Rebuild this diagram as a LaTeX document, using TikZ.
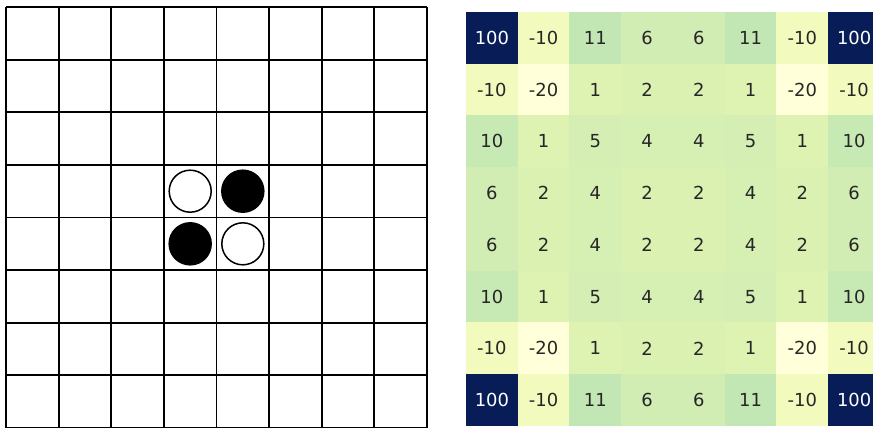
\documentclass[tikz,border=0pt]{standalone}
\usepackage{fontspec}
\newfontfamily\dv{DejaVu Sans}
\definecolor{hmA}{RGB}{8,29,88}      % 100
\definecolor{hmB}{RGB}{243,250,190}  % -10
\definecolor{hmC}{RGB}{255,255,217}  % -20
\definecolor{hmD}{RGB}{222,242,178}  % 1
\definecolor{hmE}{RGB}{219,241,178}  % 2
\definecolor{hmF}{RGB}{214,239,179}  % 4
\definecolor{hmG}{RGB}{212,238,179}  % 5
\definecolor{hmH}{RGB}{209,237,179}  % 6
\definecolor{hmI}{RGB}{199,233,180}  % 10
\definecolor{hmJ}{RGB}{194,231,180}  % 11
\definecolor{txt}{RGB}{38,38,38}
\tikzset{
  gridline/.style={line width=1.9bp, black},
  stone/.style={circle, draw=black, line width=1.5bp, minimum size=42bp, inner sep=0pt},
  whitestone/.style={stone, fill=white},
  blackstone/.style={stone, fill=black},
  cell/.style={minimum width=51.8bp, minimum height=51.8bp, inner sep=0pt, draw=none,
    font=\dv\fontsize{18}{20}\selectfont, text=txt},
}
\begin{document}
\begin{tikzpicture}[x=1bp,y=-1bp]
\useasboundingbox (0,0) rectangle (873,427);
\clip (0,0) rectangle (873,427);
\fill[white] (0,0) rectangle (873,427);
% board
\def\bs{52.625}
\foreach \i in {0,...,8} {
  \draw[gridline] ({6+\i*\bs},7) -- ({6+\i*\bs},430);
  \draw[gridline] (6,{7+\i*\bs}) -- (427,{7+\i*\bs});
}
\node[whitestone] (w1) at ({6+3.5*\bs},{7+3.5*\bs}) {};
\node[blackstone] (b1) at ({6+4.5*\bs},{7+3.5*\bs}) {};
\node[blackstone] (b2) at ({6+3.5*\bs},{7+4.5*\bs}) {};
\node[whitestone] (w2) at ({6+4.5*\bs},{7+4.5*\bs}) {};
% heatmap
\def\hx{466}\def\hy{12}\def\hs{51.75}
\foreach \row/\vals in {
 0/{100/hmA,-10/hmB,11/hmJ,6/hmH,6/hmH,11/hmJ,-10/hmB,100/hmA},
 1/{-10/hmB,-20/hmC,1/hmD,2/hmE,2/hmE,1/hmD,-20/hmC,-10/hmB},
 2/{10/hmI,1/hmD,5/hmG,4/hmF,4/hmF,5/hmG,1/hmD,10/hmI},
 3/{6/hmH,2/hmE,4/hmF,2/hmE,2/hmE,4/hmF,2/hmE,6/hmH},
 4/{6/hmH,2/hmE,4/hmF,2/hmE,2/hmE,4/hmF,2/hmE,6/hmH},
 5/{10/hmI,1/hmD,5/hmG,4/hmF,4/hmF,5/hmG,1/hmD,10/hmI},
 6/{-10/hmB,-20/hmC,1/hmD,2/hmE,2/hmE,1/hmD,-20/hmC,-10/hmB},
 7/{100/hmA,-10/hmB,11/hmJ,6/hmH,6/hmH,11/hmJ,-10/hmB,100/hmA}} {
  \foreach \v/\k [count=\c from 0] in \vals {
    \ifnum\v=100\relax
      \node[cell, fill=\k, text=white] (h-\row-\c) at ({\hx+(\c+0.5)*\hs},{\hy+(\row+0.5)*\hs}) {\v};
    \else
      \node[cell, fill=\k] (h-\row-\c) at ({\hx+(\c+0.5)*\hs},{\hy+(\row+0.5)*\hs}) {\v};
    \fi
  }
}
\end{tikzpicture}
\end{document}
